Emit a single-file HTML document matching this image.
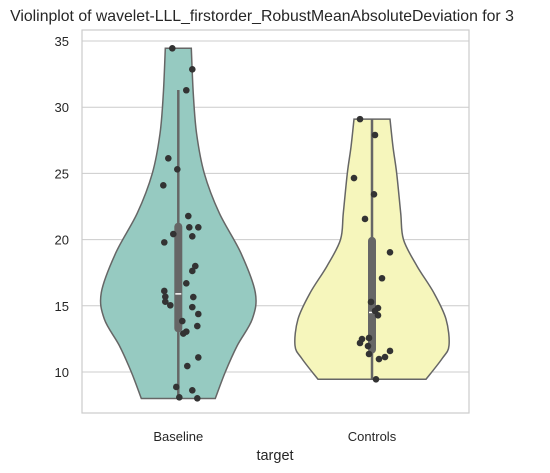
<!DOCTYPE html>
<html><head><meta charset="utf-8"><style>
html,body{margin:0;padding:0;background:#fff;}
svg{display:block;font-family:"Liberation Sans","DejaVu Sans",sans-serif;}
</style></head><body>
<svg id="chart" width="550" height="473" viewBox="0 0 550 473"></svg>
<script>
const categories = ["Baseline","Controls"];
const yTicks = [10,15,20,25,30,35];
const baselinePoints = [34.45,32.86,31.28,26.14,25.31,24.1,21.78,20.93,20.93,20.42,20.25,19.79,18.0,17.63,16.7,16.12,15.69,15.31,15.04,15.66,14.9,14.38,13.85,13.47,13.05,12.9,11.1,10.45,8.87,8.62,8.09,8.01];
const baselineJitter = [-6,14,8,-10,-1,-15,10,11,20,-5,14,-14,17,14,8,-14,-13,-13,-8,15,14,20,4,19,8,5,20,9,-2,14,1,19];
const controlsPoints = [29.1,27.9,24.65,23.42,21.56,19.04,17.08,15.29,14.83,14.61,14.28,12.57,12.49,12.19,11.96,11.36,11.59,11.13,10.98,9.45];
const controlsJitter = [-12,3,-18,2,-7,18,10,-1,6,3,6,-3,-10,-12,-4,-3,18,13,7,4];
const baselineDensityV = [8.0,10,12,14,16,19,22,25,28,31,34.45];
const baselineDensityW = [37,47,59,74,77,62.5,41,26,18.3,15,13];
const controlsDensityV = [9.45,11,12,14,16,18,20,22,25,27,29.1];
const controlsDensityW = [54,70,77,74,61.7,45,31.5,28.7,24.7,21,18];
const boxStats = [{q1:13.3,med:15.9,q3:20.97,lo:8.0,hi:31.3},{q1:11.7,med:14.5,q3:19.9,lo:9.45,hi:29.1}];
const colors = ["#96cac1","#f6f6bc"];

const L=82,R=469,T=30,B=413;
const y = v => 372 - (v-10)*13.24;
const xc = i => [178.3,372][i];
const NS="http://www.w3.org/2000/svg";
const svg=document.getElementById('chart');
function mk(tag,attrs,parent){const e=document.createElementNS(NS,tag);for(const k in attrs)e.setAttribute(k,attrs[k]);(parent||svg).appendChild(e);return e;}

yTicks.forEach(t=>{
  const g=mk('line',{x1:L,x2:R,y1:y(t),y2:y(t),stroke:'#cccccc','stroke-width':1});
  
  
  const tx=mk('text',{x:69,y:y(t)+5,'text-anchor':'end','font-size':13,fill:'#262626'});
  tx.textContent=t;
  
  
});
const frame=mk('rect',{x:L,y:T,width:R-L,height:B-T,fill:'none',stroke:'#cccccc','stroke-width':1.2});



function smoothSide(pts){
  let d='';
  for(let i=0;i<pts.length-1;i++){
    const p0=pts[Math.max(0,i-1)],p1=pts[i],p2=pts[i+1],p3=pts[Math.min(pts.length-1,i+2)];
    const c1=[p1[0]+(p2[0]-p0[0])/6,p1[1]+(p2[1]-p0[1])/6];
    const c2=[p2[0]-(p3[0]-p1[0])/6,p2[1]-(p3[1]-p1[1])/6];
    d+=` C${c1[0]},${c1[1]} ${c2[0]},${c2[1]} ${p2[0]},${p2[1]}`;
  }
  return d;
}
const dens=[[baselineDensityV,baselineDensityW],[controlsDensityV,controlsDensityW]];
dens.forEach(([vs,ws],i)=>{
  const right=vs.map((v,k)=>[xc(i)+ws[k],y(v)]);
  const left=vs.map((v,k)=>[xc(i)-ws[k],y(v)]).reverse();
  let d=`M${xc(i)-ws[0]},${y(vs[0])} L${right[0][0]},${right[0][1]}`+smoothSide(right)+` L${left[0][0]},${left[0][1]}`+smoothSide(left)+'Z';
  const p=mk('path',{d,fill:colors[i],stroke:'#666666','stroke-width':1.5});
  
  
  const s=boxStats[i];
  const w=mk('line',{x1:xc(i),x2:xc(i),y1:y(s.hi),y2:y(s.lo),stroke:'#666666','stroke-width':2.5});
  
  
  const b=mk('line',{x1:xc(i),x2:xc(i),y1:y(s.q3),y2:y(s.q1),stroke:'#666666','stroke-width':8,'stroke-linecap':'round'});
  
  
  const m=mk('line',{x1:xc(i)-3,x2:xc(i)+3,y1:y(s.med),y2:y(s.med),stroke:'#ffffff','stroke-width':1.5});
  
  
  const lab=mk('text',{x:xc(i),y:441,'text-anchor':'middle','font-size':13,fill:'#262626'});
  lab.textContent=categories[i];
  
  
});
[[baselinePoints,baselineJitter],[controlsPoints,controlsJitter]].forEach(([pts,jit],i)=>{
  pts.forEach((v,k)=>{
    const c=mk('circle',{cx:xc(i)+jit[k],cy:y(v),r:3.3,fill:'#333333'});
    
    
  });
});
const title=mk('text',{x:262,y:21,'text-anchor':'middle','font-size':15.8,fill:'#262626'});
title.textContent='Violinplot of wavelet-LLL_firstorder_RobustMeanAbsoluteDeviation for 3';


const xt=mk('text',{x:275,y:460,'text-anchor':'middle','font-size':14.5,fill:'#262626'});
xt.textContent='target';


</script>
</body></html>
